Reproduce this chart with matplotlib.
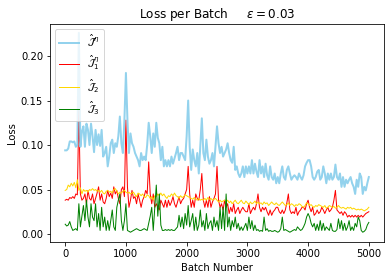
import numpy as np
import matplotlib
matplotlib.use('Agg')
import matplotlib.pyplot as plt

# batch numbers, one logged loss every 25 batches
batches = np.arange(0, 5001, 25)

# total loss J^eta
loss_total = [
    0.094, 0.094, 0.096, 0.104, 0.104, 0.103, 0.104, 0.098, 0.100, 0.226,
    0.098, 0.115, 0.121, 0.098, 0.124, 0.117, 0.100, 0.124, 0.110, 0.092,
    0.117, 0.100, 0.112, 0.099, 0.117, 0.087, 0.091, 0.098, 0.076, 0.087,
    0.102, 0.106, 0.091, 0.102, 0.098, 0.110, 0.132, 0.102, 0.091, 0.128,
    0.181, 0.128, 0.091, 0.113, 0.102, 0.098, 0.091, 0.087, 0.083, 0.076,
    0.091, 0.083, 0.087, 0.083, 0.100, 0.125, 0.110, 0.091, 0.113, 0.098,
    0.125, 0.108, 0.102, 0.083, 0.098, 0.076, 0.083, 0.076, 0.083, 0.076,
    0.087, 0.079, 0.085, 0.091, 0.098, 0.083, 0.091, 0.091, 0.087, 0.083,
    0.110, 0.150, 0.098, 0.072, 0.095, 0.083, 0.076, 0.091, 0.068, 0.100,
    0.130, 0.091, 0.083, 0.106, 0.087, 0.079, 0.083, 0.091, 0.076, 0.098,
    0.121, 0.102, 0.091, 0.098, 0.087, 0.091, 0.095, 0.102, 0.091, 0.083,
    0.080, 0.098, 0.072, 0.076, 0.068, 0.064, 0.068, 0.076, 0.064, 0.076,
    0.068, 0.076, 0.068, 0.083, 0.068, 0.079, 0.070, 0.064, 0.083, 0.068,
    0.076, 0.064, 0.079, 0.066, 0.061, 0.076, 0.064, 0.061, 0.068, 0.057,
    0.064, 0.057, 0.068, 0.076, 0.064, 0.061, 0.072, 0.076, 0.068, 0.061,
    0.064, 0.066, 0.064, 0.061, 0.068, 0.064, 0.061, 0.066, 0.076, 0.080,
    0.083, 0.083, 0.076, 0.064, 0.061, 0.064, 0.070, 0.072, 0.061, 0.064,
    0.076, 0.068, 0.057, 0.068, 0.061, 0.068, 0.061, 0.064, 0.078, 0.064,
    0.061, 0.068, 0.053, 0.064, 0.053, 0.061, 0.057, 0.061, 0.064, 0.057,
    0.053, 0.045, 0.061, 0.053, 0.068, 0.064, 0.045, 0.053, 0.049, 0.057,
    0.064,
]

# J_1^eta
loss_1 = [
    0.038, 0.039, 0.038, 0.041, 0.040, 0.042, 0.040, 0.045, 0.044, 0.139,
    0.045, 0.038, 0.040, 0.045, 0.034, 0.049, 0.040, 0.038, 0.045, 0.034,
    0.040, 0.046, 0.053, 0.038, 0.045, 0.036, 0.034, 0.040, 0.049, 0.042,
    0.046, 0.040, 0.053, 0.045, 0.049, 0.040, 0.034, 0.050, 0.053, 0.042,
    0.128, 0.053, 0.030, 0.038, 0.049, 0.040, 0.042, 0.034, 0.045, 0.038,
    0.030, 0.038, 0.042, 0.049, 0.045, 0.081, 0.045, 0.034, 0.045, 0.030,
    0.034, 0.030, 0.027, 0.038, 0.034, 0.030, 0.038, 0.030, 0.038, 0.032,
    0.036, 0.042, 0.034, 0.030, 0.036, 0.042, 0.034, 0.038, 0.040, 0.045,
    0.050, 0.076, 0.045, 0.030, 0.038, 0.030, 0.045, 0.040, 0.038, 0.050,
    0.068, 0.038, 0.030, 0.038, 0.030, 0.042, 0.030, 0.036, 0.040, 0.045,
    0.076, 0.038, 0.030, 0.034, 0.027, 0.038, 0.030, 0.034, 0.023, 0.030,
    0.025, 0.034, 0.023, 0.027, 0.030, 0.023, 0.027, 0.030, 0.027, 0.025,
    0.025, 0.034, 0.023, 0.027, 0.030, 0.027, 0.034, 0.045, 0.030, 0.025,
    0.030, 0.027, 0.030, 0.025, 0.021, 0.027, 0.021, 0.025, 0.027, 0.030,
    0.030, 0.025, 0.023, 0.027, 0.023, 0.027, 0.035, 0.045, 0.027, 0.023,
    0.025, 0.023, 0.030, 0.021, 0.025, 0.027, 0.030, 0.030, 0.027, 0.034,
    0.038, 0.030, 0.025, 0.030, 0.021, 0.023, 0.027, 0.023, 0.025, 0.030,
    0.027, 0.023, 0.027, 0.030, 0.025, 0.027, 0.030, 0.038, 0.049, 0.027,
    0.025, 0.023, 0.025, 0.021, 0.025, 0.023, 0.019, 0.021, 0.019, 0.021,
    0.019, 0.021, 0.019, 0.021, 0.019, 0.021, 0.019, 0.021, 0.023, 0.024,
    0.025,
]

# J_2
loss_2 = [
    0.049, 0.050, 0.055, 0.053, 0.057, 0.054, 0.058, 0.052, 0.061, 0.049,
    0.052, 0.045, 0.050, 0.048, 0.049, 0.047, 0.050, 0.049, 0.051, 0.049,
    0.050, 0.048, 0.049, 0.047, 0.049, 0.046, 0.045, 0.048, 0.049, 0.047,
    0.048, 0.046, 0.050, 0.051, 0.048, 0.045, 0.047, 0.046, 0.048, 0.049,
    0.047, 0.046, 0.047, 0.045, 0.046, 0.047, 0.044, 0.042, 0.046, 0.045,
    0.043, 0.045, 0.042, 0.041, 0.044, 0.043, 0.040, 0.042, 0.038, 0.043,
    0.042, 0.045, 0.043, 0.046, 0.043, 0.045, 0.042, 0.040, 0.043, 0.042,
    0.045, 0.043, 0.046, 0.043, 0.042, 0.040, 0.043, 0.041, 0.042, 0.044,
    0.043, 0.042, 0.041, 0.040, 0.039, 0.041, 0.039, 0.038, 0.040, 0.038,
    0.039, 0.038, 0.040, 0.038, 0.041, 0.039, 0.040, 0.038, 0.039, 0.040,
    0.038, 0.036, 0.038, 0.036, 0.037, 0.038, 0.036, 0.038, 0.035, 0.037,
    0.034, 0.036, 0.038, 0.035, 0.034, 0.036, 0.038, 0.035, 0.034, 0.037,
    0.035, 0.033, 0.036, 0.034, 0.035, 0.037, 0.034, 0.036, 0.034, 0.035,
    0.033, 0.036, 0.034, 0.035, 0.032, 0.034, 0.036, 0.034, 0.033, 0.035,
    0.033, 0.032, 0.034, 0.036, 0.034, 0.032, 0.033, 0.035, 0.032, 0.034,
    0.033, 0.031, 0.033, 0.032, 0.034, 0.033, 0.031, 0.030, 0.032, 0.035,
    0.034, 0.032, 0.033, 0.031, 0.030, 0.032, 0.031, 0.033, 0.032, 0.031,
    0.030, 0.032, 0.029, 0.030, 0.032, 0.031, 0.030, 0.031, 0.029, 0.030,
    0.032, 0.030, 0.029, 0.030, 0.029, 0.028, 0.030, 0.029, 0.030, 0.028,
    0.029, 0.028, 0.027, 0.028, 0.027, 0.028, 0.027, 0.026, 0.027, 0.028,
    0.030,
]

# J_3
loss_3 = [
    0.011, 0.009, 0.010, 0.014, 0.008, 0.004, 0.005, 0.006, 0.004, 0.034,
    0.008, 0.020, 0.032, 0.015, 0.038, 0.019, 0.008, 0.034, 0.019, 0.015,
    0.034, 0.008, 0.023, 0.004, 0.030, 0.008, 0.019, 0.004, 0.015, 0.004,
    0.015, 0.027, 0.008, 0.004, 0.030, 0.038, 0.045, 0.015, 0.004, 0.015,
    0.034, 0.004, 0.003, 0.002, 0.003, 0.004, 0.005, 0.006, 0.005, 0.004,
    0.004, 0.005, 0.006, 0.005, 0.004, 0.012, 0.020, 0.030, 0.004, 0.030,
    0.055, 0.020, 0.045, 0.010, 0.004, 0.004, 0.005, 0.004, 0.005, 0.004,
    0.005, 0.004, 0.004, 0.006, 0.008, 0.021, 0.008, 0.019, 0.006, 0.023,
    0.010, 0.032, 0.008, 0.015, 0.023, 0.004, 0.019, 0.004, 0.010, 0.027,
    0.008, 0.015, 0.004, 0.023, 0.006, 0.012, 0.015, 0.004, 0.019, 0.008,
    0.015, 0.004, 0.030, 0.006, 0.030, 0.004, 0.045, 0.008, 0.019, 0.004,
    0.015, 0.008, 0.019, 0.006, 0.012, 0.004, 0.008, 0.004, 0.008, 0.012,
    0.004, 0.019, 0.006, 0.015, 0.004, 0.010, 0.004, 0.005, 0.003, 0.004,
    0.003, 0.019, 0.004, 0.006, 0.003, 0.004, 0.003, 0.003, 0.004, 0.003,
    0.002, 0.003, 0.006, 0.019, 0.004, 0.005, 0.004, 0.003, 0.002, 0.003,
    0.004, 0.005, 0.004, 0.008, 0.006, 0.004, 0.005, 0.008, 0.012, 0.019,
    0.023, 0.019, 0.012, 0.008, 0.012, 0.004, 0.011, 0.004, 0.015, 0.004,
    0.012, 0.004, 0.008, 0.006, 0.004, 0.012, 0.004, 0.003, 0.003, 0.005,
    0.017, 0.006, 0.015, 0.004, 0.012, 0.004, 0.008, 0.015, 0.004, 0.008,
    0.004, 0.012, 0.008, 0.019, 0.015, 0.004, 0.002, 0.003, 0.005, 0.010,
    0.013,
]

fig = plt.figure(figsize=(392 / 72, 280 / 72), dpi=72)
ax = fig.add_subplot(111)
fig.subplots_adjust(left=0.1276, right=0.9796, top=0.9143, bottom=0.1357)

ax.plot(batches, loss_total, color='skyblue', lw=2, alpha=0.9, zorder=3,
        label=r'$\hat{\mathcal{J}}^{\eta}$')
ax.plot(batches, loss_1, color='red', lw=1, label=r'$\hat{\mathcal{J}}_1^{\eta}$')
ax.plot(batches, loss_2, color='gold', lw=1, label=r'$\hat{\mathcal{J}}_2$')
ax.plot(batches, loss_3, color='green', lw=1, label=r'$\hat{\mathcal{J}}_3$')

ax.set_xlim(-250, 5250)
ax.set_ylim(-0.009, 0.236)
ax.set_xticks([0, 1000, 2000, 3000, 4000, 5000])
ax.set_yticks([0.0, 0.05, 0.10, 0.15, 0.20])
ax.set_title(r'Loss per Batch     $\epsilon = 0.03$')
ax.set_xlabel('Batch Number')
ax.set_ylabel('Loss')
ax.legend(loc='upper left')

fig.savefig('out.png', dpi=72)
